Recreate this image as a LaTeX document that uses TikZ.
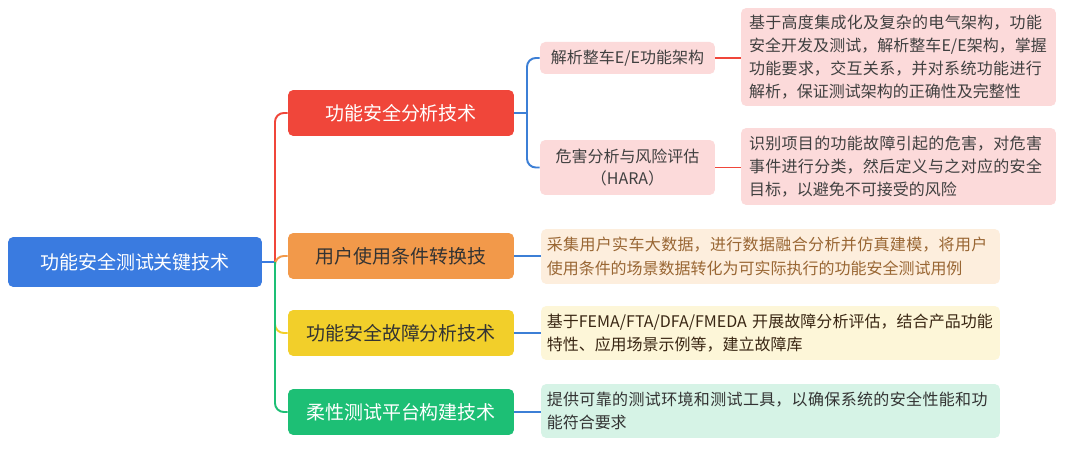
\documentclass[tikz,border=0pt]{standalone}
\usepackage{fontspec}
\setmainfont{Noto Sans CJK SC}
\XeTeXlinebreaklocale "zh"
\XeTeXlinebreakskip=0pt plus 1pt
\begin{document}
\begin{tikzpicture}[x=0.02cm,y=-0.02cm,
  box/.style={rounded corners=3pt,inner sep=0pt,font=\fontsize{10.8}{13}\selectfont},
  desc/.style={rounded corners=3pt,inner sep=0pt,align=left,text width=#1,font=\fontsize{9.1}{13.2}\selectfont},
  ln/.style={line width=1.1pt,rounded corners=5pt}]
\definecolor{cblue}{HTML}{3A7BE0}
\definecolor{cred}{HTML}{F0463A}
\definecolor{corange}{HTML}{F2994A}
\definecolor{cyellow}{HTML}{F2CF2A}
\definecolor{cgreen}{HTML}{1DBF75}
\definecolor{lpink}{HTML}{FCDADA}
\definecolor{lorange}{HTML}{FDEEDD}
\definecolor{lyellow}{HTML}{FDF6D8}
\definecolor{lgreen}{HTML}{D6F3E6}
\definecolor{lnblue}{HTML}{3C7FD6}
\useasboundingbox (0,0) rectangle (1080,449);
\fill[white] (0,0) rectangle (1080,449);
% nodes
\node[box,fill=cblue,text=white,minimum width=5.08cm,minimum height=1cm] (root) at (135,262) {功能安全测试关键技术};
\node[box,fill=cred,text=white,minimum width=4.52cm,minimum height=0.92cm] (a) at (401,113) {功能安全分析技术};
\node[box,fill=corange,text=black!80,minimum width=4.52cm,minimum height=0.92cm] (b) at (401,256) {用户使用条件转换技};
\node[box,fill=cyellow,text=black!80,minimum width=4.52cm,minimum height=0.92cm] (c) at (401,333) {功能安全故障分析技术};
\node[box,fill=cgreen,text=white,minimum width=4.52cm,minimum height=0.92cm] (d) at (401,412) {柔性测试平台构建技术};
\node[box,fill=lpink,text=black!75,font=\fontsize{9.1}{12.5}\selectfont,minimum width=3.5cm,minimum height=0.64cm] (a1) at (627.5,58) {解析整车E/E功能架构};
\node[box,fill=lpink,text=black!75,align=center,font=\fontsize{9.1}{12.5}\selectfont,minimum width=3.5cm,minimum height=1.1cm] (a2) at (627.5,167.5) {危害分析与风险评估\\（HARA）};
\node[desc=5.98cm,fill=lpink,text=black!75,minimum width=6.3cm,minimum height=1.96cm] (a1d) at (898.5,57) {基于高度集成化及复杂的电气架构，功能安全开发及测试，解析整车E/E架构，掌握功能要求，交互关系，并对系统功能进行解析，保证测试架构的正确性及完整性};
\node[desc=5.98cm,fill=lpink,text=black!75,minimum width=6.3cm,minimum height=1.54cm] (a2d) at (898.5,166.5) {识别项目的功能故障引起的危害，对危害事件进行分类，然后定义与之对应的安全目标，以避免不可接受的风险};
\node[desc=8.95cm,fill=lorange,text=brown!80!black,minimum width=9.18cm,minimum height=1.1cm] (bd) at (770.5,256.5) {采集用户实车大数据，进行数据融合分析并仿真建模，将用户使用条件的场景数据转化为可实际执行的功能安全测试用例};
\node[desc=8.95cm,fill=lyellow,text=black!70!brown,minimum width=9.18cm,minimum height=1.08cm] (cd) at (770.5,333) {基于FEMA/FTA/DFA/FMEDA 开展故障分析评估，结合产品功能特性、应用场景示例等，建立故障库};
\node[desc=8.95cm,fill=lgreen,text=black!80,minimum width=9.18cm,minimum height=1.08cm] (dd) at (770.5,411) {提供可靠的测试环境和测试工具，以确保系统的安全性能和功能符合要求};
% connectors
\coordinate (t) at (275,262);
\coordinate (s) at (527,113);
\draw[ln,cblue] (root.east) -- (t);
\draw[ln,cred] (t) -- (275,113) -- (a.west);
\draw[ln,corange] (t) |- (b.west);
\draw[ln,cyellow] (t) |- (c.west);
\draw[ln,cgreen] (t) |- (d.west);
\draw[ln,lnblue] (a.east) -- (s);
\draw[ln,lnblue] (s) |- (a1.west);
\draw[ln,lnblue] (s) |- (a2.west);
\draw[ln,cred] (a1.east) -- (a1d.west |- a1.east);
\draw[ln,cred] (a2.east) -- (a2d.west |- a2.east);
\draw[ln,lnblue] (b.east) -- (bd.west |- b.east);
\draw[ln,lnblue] (c.east) -- (cd.west |- c.east);
\draw[ln,lnblue] (d.east) -- (dd.west |- d.east);
\end{tikzpicture}
\end{document}
